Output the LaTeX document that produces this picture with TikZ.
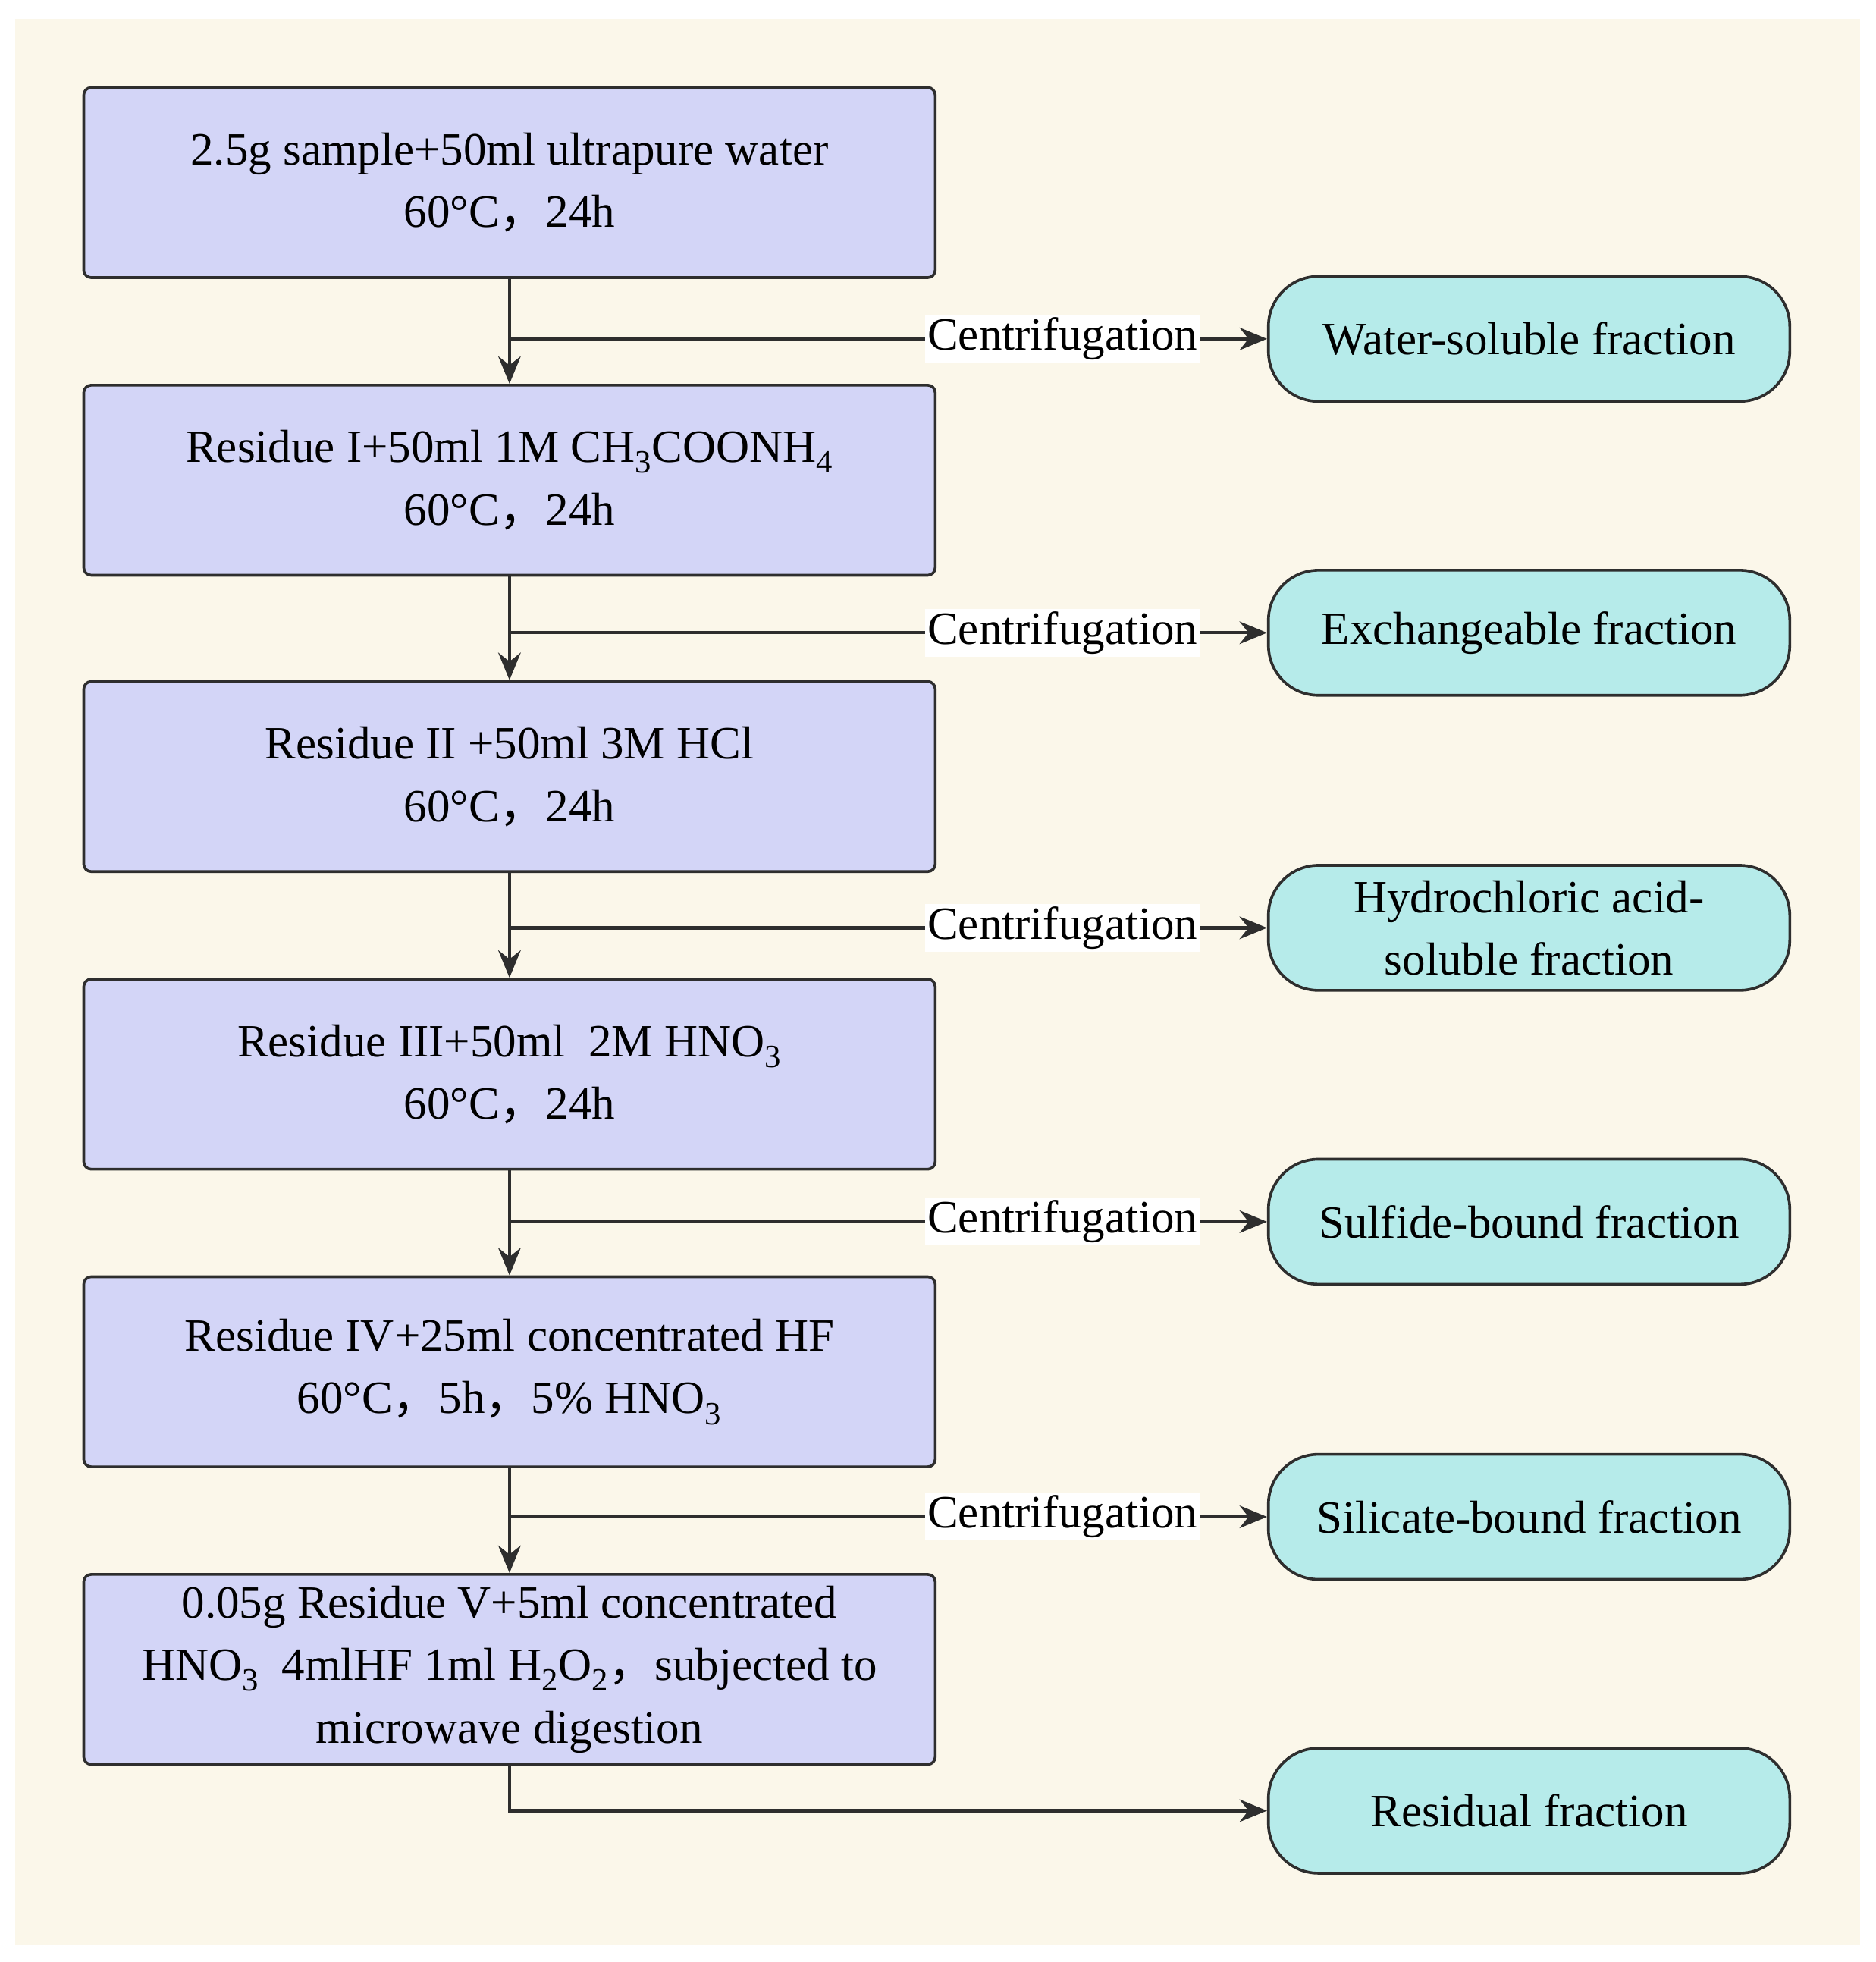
\documentclass[tikz,border=0pt]{standalone}
\usepackage{fontspec}
\setmainfont{Liberation Serif}
\newfontfamily\cjk{Noto Sans CJK SC}
\usetikzlibrary{arrows.meta}
\definecolor{bg}{HTML}{FBF7EA}
\definecolor{lb}{HTML}{D3D5F7}
\definecolor{cy}{HTML}{B6EBEA}
\definecolor{ln}{HTML}{2E2E2E}
\newcommand{\cc}{{\cjk ，}}
\newcommand{\sbs}[1]{\textsubscript{#1}}
\begin{document}
\begin{tikzpicture}[x=1pt,y=-1pt,
 proc/.style={draw=ln,line width=2.2pt,fill=lb,rounded corners=6pt,minimum width=681pt,minimum height=152pt,align=center,font=\fontsize{37}{50}\selectfont},
 frac/.style={draw=ln,line width=2.2pt,fill=cy,rounded corners=40pt,minimum width=417pt,minimum height=100pt,align=center,font=\fontsize{37}{50}\selectfont},
 lab/.style={fill=white,inner sep=2pt,font=\fontsize{37}{44}\selectfont},
 con/.style={draw=ln,line width=2.6pt,-{Stealth[length=22pt,width=18pt]}}]
\useasboundingbox (0,0) rectangle (1500,1569);
\fill[bg] (12,15) rectangle (1488,1555);
\node[proc] (s1) at (407.5,146) {2.5g sample+50ml ultrapure water\\60°C\cc 24h};
\node[proc] (s2) at (407.5,384) {Residue I+50ml 1M CH\sbs{3}COONH\sbs{4}\\60°C\cc 24h};
\node[proc] (s3) at (407.5,621) {Residue II +50ml 3M HCl\\60°C\cc 24h};
\node[proc] (s4) at (407.5,859) {Residue III+50ml\ \ 2M HNO\sbs{3}\\60°C\cc 24h};
\node[proc] (s5) at (407.5,1097) {Residue IV+25ml concentrated HF\\60°C\cc 5h\cc 5\% HNO\sbs{3}};
\node[proc] (s6) at (407.5,1335) {0.05g Residue V+5ml concentrated\\HNO\sbs{3}\ \ 4mlHF 1ml H\sbs{2}O\sbs{2}\cc subjected to\\microwave digestion};
\node[frac] (f1) at (1223,271) {Water-soluble fraction};
\node[frac] (f2) at (1223,506) {Exchangeable fraction};
\node[frac] (f3) at (1223,742) {Hydrochloric acid-\\soluble fraction};
\node[frac] (f4) at (1223,977) {Sulfide-bound fraction};
\node[frac] (f5) at (1223,1213) {Silicate-bound fraction};
\node[frac] (f6) at (1223,1448) {Residual fraction};
\foreach \a/\b/\f/\y in {s1/s2/f1/271,s2/s3/f2/506,s3/s4/f3/742,s4/s5/f4/977,s5/s6/f5/1213}{
 \draw[con] (\a.south) -- (\b.north);
 \coordinate (j\f) at (407.5,\y);
 \draw[con] (j\f) -- node[lab,pos=0.73]{Centrifugation} (\f.west);
}
\coordinate (j6) at (407.5,1448);
\draw[con] (s6.south) -- (j6) -- (f6.west);
\end{tikzpicture}
\end{document}
